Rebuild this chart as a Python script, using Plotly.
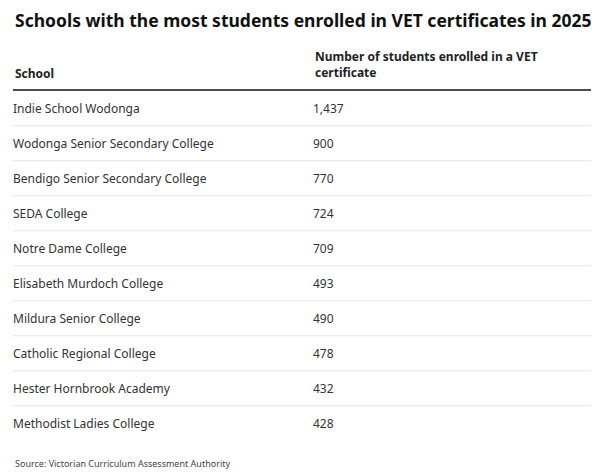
import plotly.graph_objects as go

schools = ['Indie School Wodonga', 'Wodonga Senior Secondary College',
           'Bendigo Senior Secondary College', 'SEDA College', 'Notre Dame College',
           'Elisabeth Murdoch College', 'Mildura Senior College',
           'Catholic Regional College', 'Hester Hornbrook Academy',
           'Methodist Ladies College']
students = [1437, 900, 770, 724, 709, 493, 490, 478, 432, 428]
headers = ['School', 'Number of students enrolled in a VET<br>certificate']

# page body has an 8px margin, so the figure is a bit smaller than the window
OFF = 8
W, H = 599 - OFF, 473 - OFF
FONT = 'Noto Sans'
rows = list(range(len(schools)))

# pixel layout of the table (window coordinates)
row0, step = 110 - OFF, 35
left, col2, right = 13 - OFF, 313 - OFF, 596 - OFF

def yval(px):
    return (px - OFF - row0) / step

fig = go.Figure()

fig.add_trace(go.Scatter(
    x=[left] * len(schools), y=rows, mode='text',
    text=schools, textposition='middle right',
    textfont=dict(family=FONT, size=12, color='#333333'),
    hoverinfo='skip', showlegend=False))

fig.add_trace(go.Scatter(
    x=[col2] * len(students), y=rows, mode='text',
    text=[f'{v:,}' for v in students], textposition='middle right',
    textfont=dict(family=FONT, size=12, color='#333333'),
    hoverinfo='skip', showlegend=False))

# row separators (sit a little above the midpoint between rows)
for r in rows[:-1]:
    fig.add_shape(type='line', x0=left, x1=right, y0=r + 0.45, y1=r + 0.45,
                  line=dict(color='#e6e6e6', width=1))
# header rule
fig.add_shape(type='line', x0=left, x1=right, y0=yval(90), y1=yval(90),
              line=dict(color='#111111', width=1.5))

# headers
fig.add_annotation(x=left, y=yval(73), text=f'<b>{headers[0]}</b>',
                   xanchor='left', yanchor='middle', showarrow=False,
                   font=dict(family=FONT, size=12, color='#222222'))
fig.add_annotation(x=col2, y=yval(64), text=f'<b>{headers[1]}</b>',
                   xanchor='left', yanchor='middle', showarrow=False, align='left',
                   font=dict(family=FONT, size=12, color='#222222'))

fig.add_annotation(x=left, y=yval(463), text='Source: Victorian Curriculum Assessment Authority',
                   xanchor='left', yanchor='middle', showarrow=False,
                   font=dict(family=FONT, size=9, color='#444444'))

# title as an annotation so its position is exact
fig.add_annotation(x=left, y=yval(20),
                   text='<b>Schools with the most students enrolled in VET certificates in 2025</b>',
                   xanchor='left', yanchor='middle', showarrow=False,
                   font=dict(family=FONT, size=17.5, color='#111111'))

fig.update_layout(
    width=W, height=H,
    margin=dict(l=0, r=0, t=0, b=0),
    paper_bgcolor='white', plot_bgcolor='white',
    xaxis=dict(range=[0, W], visible=False, fixedrange=True),
    yaxis=dict(range=[yval(473), yval(OFF)], visible=False, fixedrange=True),
)

fig.write_html('out.html')
